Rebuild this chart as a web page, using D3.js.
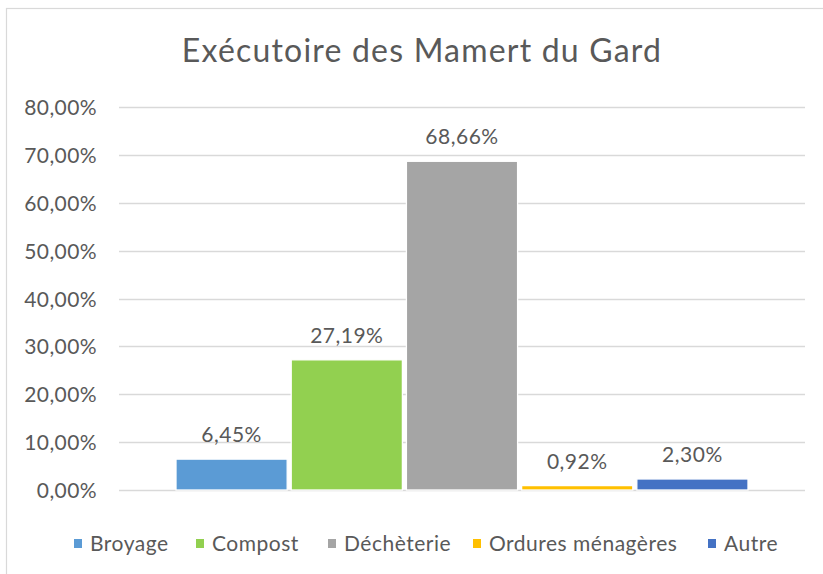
<!DOCTYPE html>
<html>
<head>
<meta charset="utf-8">
<script src="https://cdn.jsdelivr.net/npm/d3@7/dist/d3.min.js"></script>
<style>
  html, body { margin: 0; padding: 0; background: #ffffff; }
  svg { display: block; }
  text { font-family: Lato, "Open Sans", sans-serif; fill: #595959; }
</style>
</head>
<body>
<svg id="chart" width="823" height="574"></svg>
<script>
const title = "Exécutoire des Mamert du Gard";
const categories = ["Broyage", "Compost", "Déchèterie", "Ordures ménagères", "Autre"];
const values = [0.0645, 0.2719, 0.6866, 0.0092, 0.0230];
const colors = ["#5B9BD5", "#92D050", "#A5A5A5", "#FFC000", "#4472C4"];
const tickValues = [0, 0.1, 0.2, 0.3, 0.4, 0.5, 0.6, 0.7, 0.8];

const fmt = v => (v * 100).toFixed(2).replace(".", ",") + "%";

const svg = d3.select("#chart");

// chart frame
svg.append("rect")
  .attr("x", 6.5).attr("y", 8.5)
  .attr("width", 830).attr("height", 600)
  .attr("fill", "#ffffff")
  .attr("stroke", "#d9d9d9").attr("stroke-width", 1.2);

const plot = { left: 119, right: 805, top: 107, bottom: 490 };

const y = d3.scaleLinear().domain([0, 0.8]).range([plot.bottom, plot.top]);
const x = d3.scaleBand().domain(categories).range([176, 748]).paddingInner(0.035).paddingOuter(0);
const color = d3.scaleOrdinal().domain(categories).range(colors);

// gridlines
svg.append("g")
  .selectAll("line")
  .data(tickValues)
  .join("line")
  .attr("x1", plot.left).attr("x2", plot.right)
  .attr("y1", d => Math.round(y(d)) + 0.5).attr("y2", d => Math.round(y(d)) + 0.5)
  .attr("stroke", "#d9d9d9").attr("stroke-width", 1.5);

// y axis labels
const yAxis = d3.axisLeft(y).tickValues(tickValues).tickFormat(fmt).tickSize(0).tickPadding(0);
const ga = svg.append("g").attr("transform", "translate(97,0)").call(yAxis);
ga.select(".domain").remove();
ga.selectAll("text")
  .attr("fill", "#595959")
  .style("font-family", "Lato, 'Open Sans', sans-serif")
  .style("font-size", "21px")
  .style("letter-spacing", "0.4px")
  .attr("dy", "0.36em");

// bars
svg.append("g")
  .selectAll("rect")
  .data(categories)
  .join("rect")
  .attr("x", d => x(d))
  .attr("width", x.bandwidth())
  .attr("y", (d, i) => y(values[i]))
  .attr("height", (d, i) => y(0) - y(values[i]))
  .attr("fill", d => color(d))
  .attr("stroke", "#ffffff").attr("stroke-width", 1.3);

// data labels
svg.append("g")
  .selectAll("text")
  .data(categories)
  .join("text")
  .attr("x", d => x(d) + x.bandwidth() / 2)
  .attr("y", (d, i) => y(values[i]) - 17)
  .attr("text-anchor", "middle")
  .style("font-size", "21px")
  .style("letter-spacing", "0.5px")
  .text((d, i) => fmt(values[i]));

// title
svg.append("text")
  .attr("x", 422).attr("y", 62)
  .attr("text-anchor", "middle")
  .style("font-size", "32px")
  .style("letter-spacing", "1.2px")
  .text(title);

// legend
const legendX = [74, 196, 328, 473, 708];
const lg = svg.append("g");
const items = lg.selectAll("g").data(categories).join("g")
  .attr("transform", (d, i) => `translate(${legendX[i]},0)`);
items.append("rect")
  .attr("x", 0).attr("y", 539)
  .attr("width", 8).attr("height", 9)
  .attr("fill", d => color(d));
items.append("text")
  .attr("x", 16).attr("y", 550.5)
  .style("font-size", "21px")
  .style("letter-spacing", "0.5px")
  .text(d => d);
</script>
</body>
</html>
